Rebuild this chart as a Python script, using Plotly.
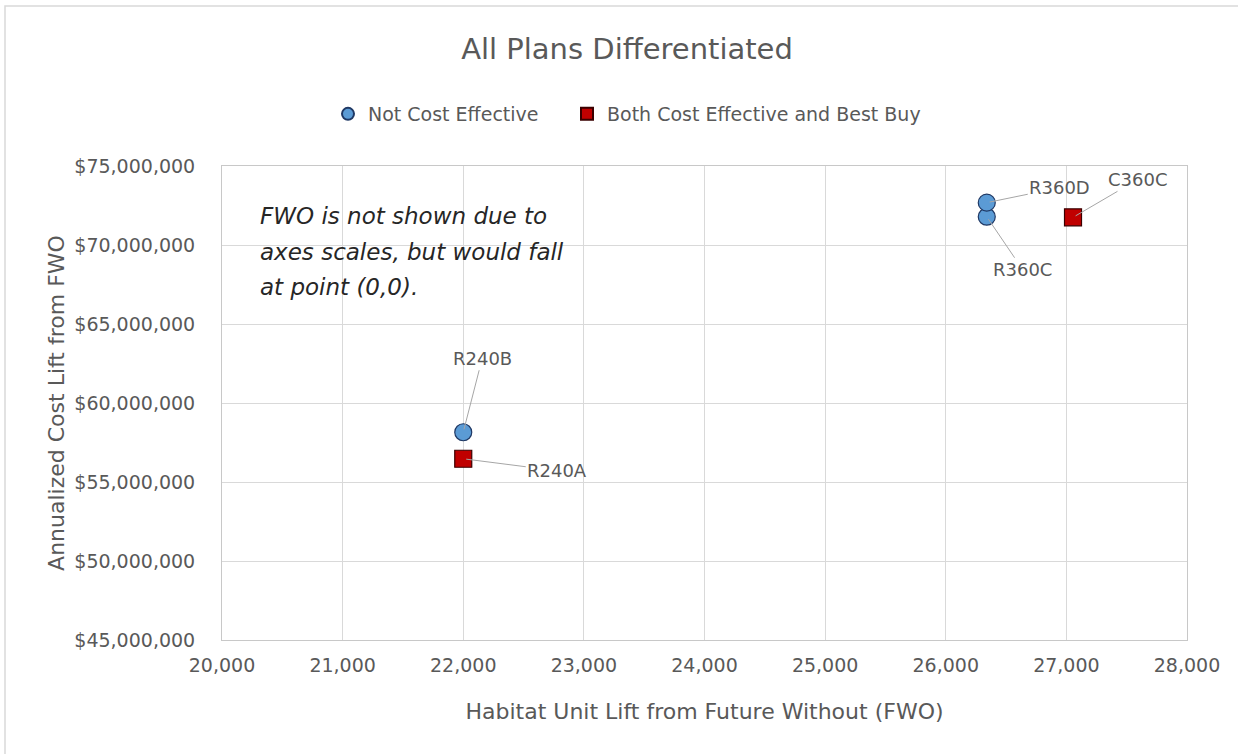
import plotly.graph_objects as go

# ---- data ----
not_ce_labels = ["R240B", "R360C", "R360D"]
not_ce_x = [22000, 26340, 26340]
not_ce_y = [58150000, 71790000, 72680000]

best_labels = ["R240A", "C360C"]
best_x = [22000, 27055]
best_y = [56470000, 71750000]

x_ticks = [20000, 21000, 22000, 23000, 24000, 25000, 26000, 27000, 28000]
y_ticks = [45000000, 50000000, 55000000, 60000000, 65000000, 70000000, 75000000]
y_tick_text = ["$" + f"{v:,}" for v in y_ticks]

note_lines = ["FWO is not shown due to", "axes scales, but would fall", "at point (0,0)."]

# ---- styling / label offsets (pixels) ----
label_offsets = {
    "R240B": (19, -74),
    "R360C": (36, 53),
    "R360D": (73, -15),
    "R240A": (94, 12),
    "C360C": (65, -38),
}
FONT = "DejaVu Sans"
GREY = "#595959"

fig = go.Figure()
fig.add_trace(go.Scatter(
    x=not_ce_x, y=not_ce_y, mode="markers", name="Not Cost Effective",
    legend="legend",
    marker=dict(symbol="circle", size=17, color="#5B9BD5",
                line=dict(color="#1F3864", width=1.2)),
))
fig.add_trace(go.Scatter(
    x=best_x, y=best_y, mode="markers", name="Both Cost Effective and Best Buy",
    legend="legend2",
    marker=dict(symbol="square", size=17, color="#C00000",
                line=dict(color="#3A0000", width=1.2)),
))

annotations = []
for labels, xs, ys in [(not_ce_labels, not_ce_x, not_ce_y), (best_labels, best_x, best_y)]:
    for lab, xv, yv in zip(labels, xs, ys):
        ax, ay = label_offsets[lab]
        annotations.append(dict(
            x=xv, y=yv, xref="x", yref="y", text=lab, showarrow=True,
            arrowhead=0, arrowwidth=1, arrowcolor="#A6A6A6", standoff=3,
            ax=ax, ay=ay, font=dict(family=FONT, size=18, color=GREY),
        ))

# italic note, one annotation per line
W, H = 965, 474
L, T = 222, 166
for i, line in enumerate(note_lines):
    py = 216 + i * 35.5
    annotations.append(dict(
        x=(258 - L) / W, y=(T + H - py) / H, xref="paper", yref="paper",
        xanchor="left", yanchor="middle", showarrow=False,
        text="<i>" + line + "</i>",
        font=dict(family=FONT, size=23, color="#262626"),
    ))

legend_common = dict(orientation="h", xanchor="left", y=(T + H - 114) / H,
                     yanchor="middle", font=dict(family=FONT, size=19, color=GREY),
                     itemsizing="constant", bgcolor="rgba(0,0,0,0)")

fig.update_layout(
    width=1238, height=754,
    margin=dict(l=L, r=1238 - L - W, t=T, b=754 - T - H),
    paper_bgcolor="white", plot_bgcolor="white",
    font=dict(family=FONT, color=GREY),
    title=dict(text="All Plans Differentiated", x=627 / 1238, xanchor="center",
               y=1 - 49 / 754, yanchor="middle", yref="container",
               font=dict(family=FONT, size=29, color=GREY)),
    showlegend=True,
    legend=dict(x=(328 - L) / W, **legend_common),
    legend2=dict(x=(567 - L) / W, **legend_common),
    annotations=annotations,
    shapes=[dict(type="rect", xref="paper", yref="paper",
                 x0=(5 - L) / W, x1=(1250 - L) / W,
                 y0=(T + H - 770) / H, y1=(T + H - 6) / H,
                 line=dict(color="#D9D9D9", width=1.5), layer="below")],
)

fig.update_xaxes(
    range=[20000, 28000], tickvals=x_ticks, tickformat=",",
    showgrid=True, gridcolor="#D9D9D9", gridwidth=1, zeroline=False,
    showline=True, linecolor="#C8C8C8", mirror=True,
    tickfont=dict(family=FONT, size=19, color=GREY),
    ticklabelstandoff=8,
    title=dict(text="Habitat Unit Lift from Future Without (FWO)", standoff=28,
               font=dict(family=FONT, size=22, color=GREY)),
)
fig.update_yaxes(
    range=[45000000, 75000000], tickvals=y_ticks, ticktext=y_tick_text,
    showgrid=True, gridcolor="#D9D9D9", gridwidth=1, zeroline=False,
    showline=True, linecolor="#C8C8C8", mirror=True,
    tickfont=dict(family=FONT, size=19, color=GREY),
    ticklabelstandoff=22,
    title=dict(text="Annualized Cost Lift from FWO", standoff=3,
               font=dict(family=FONT, size=22, color=GREY)),
)

fig.write_html("out.html")
